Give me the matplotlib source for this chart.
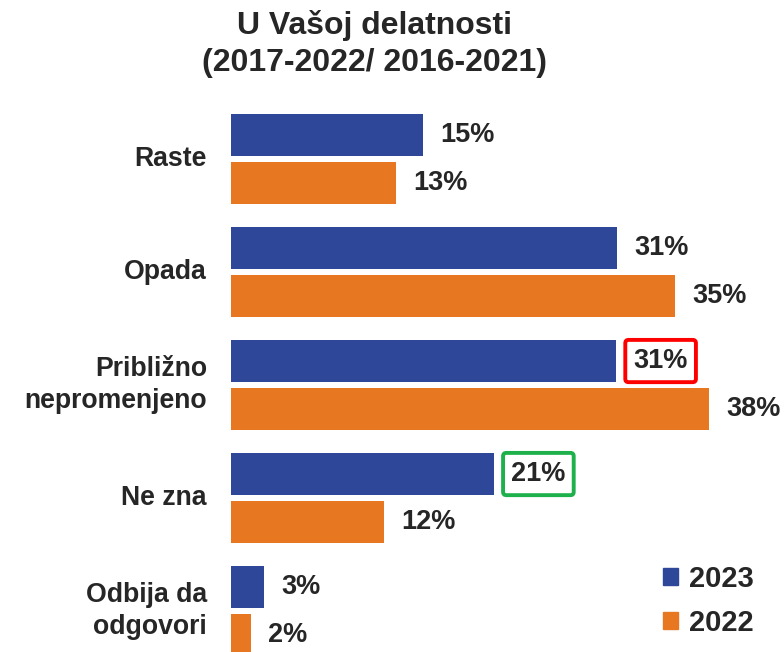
import numpy as np
import matplotlib.pyplot as plt
from matplotlib.patches import Patch

# data (bar lengths estimated, labels rounded)
categories = ['Raste', 'Opada', 'Približno\nnepromenjeno', 'Ne zna', 'Odbija da\nodgovori']
vals_2023 = [15.3, 30.65, 30.6, 20.9, 2.66]
vals_2022 = [13.1, 35.3, 37.98, 12.2, 1.6]
series_names = ['2023', '2022']
boxed = {2: 'red', 3: '#1DB04B'}  # highlighted 2023 labels

blue = '#2F4799'
orange = '#E87722'
txt = '#262626'

plt.rcParams['font.family'] = ['Liberation Sans', 'DejaVu Sans']
plt.rcParams['font.weight'] = 'bold'

fig = plt.figure(figsize=(7.84, 6.52), dpi=100)
ax = fig.add_axes([230.5 / 784, 0, 554.4 / 784, 1])

y = np.arange(len(categories))
off = 0.212
h = 0.372
ax.barh(y - off, vals_2023, height=h, color=blue)
ax.barh(y + off, vals_2022, height=h, color=orange)

ax.set_xlim(0, 44)
ax.set_ylim(4.363, -1.407)
ax.axis('off')

# value labels
for i, v in enumerate(vals_2023):
    kw = {}
    if i in boxed:
        kw['bbox'] = dict(boxstyle='round,pad=0.3,rounding_size=0.12', fc='white',
                          ec=boxed[i], lw=2.8)
    ax.annotate(f'{v:.0f}%', (v, y[i] - off), xytext=(12.5, 0), textcoords='offset points',
                ha='left', va='center', fontsize=19.5, fontweight='bold', color=txt, **kw)
for i, v in enumerate(vals_2022):
    ax.annotate(f'{v:.0f}%', (v, y[i] + off), xytext=(12.5, 0), textcoords='offset points',
                ha='left', va='center', fontsize=19.5, fontweight='bold', color=txt)

# category labels
for i, c in enumerate(categories):
    ax.annotate(c, (0, y[i]), xytext=(-17, 0), textcoords='offset points',
                ha='right', va='center', fontsize=19.2, fontweight='bold', color=txt,
                linespacing=1.28)

fig.text(0.478, 0.985, 'U Vašoj delatnosti\n(2017-2022/ 2016-2021)', ha='center', va='top',
         fontsize=23, fontweight='bold', color=txt, linespacing=1.3)

handles = [Patch(color=blue), Patch(color=orange)]
leg = fig.legend(handles, series_names, loc='upper left', bbox_to_anchor=(0.831, 0.152),
                 frameon=False, fontsize=21, handlelength=0.52, handleheight=0.52,
                 handletextpad=0.35, labelspacing=0.55, borderaxespad=0)
for t in leg.get_texts():
    t.set_color(txt)
    t.set_fontweight('bold')

fig.savefig('out.png', dpi=100)
